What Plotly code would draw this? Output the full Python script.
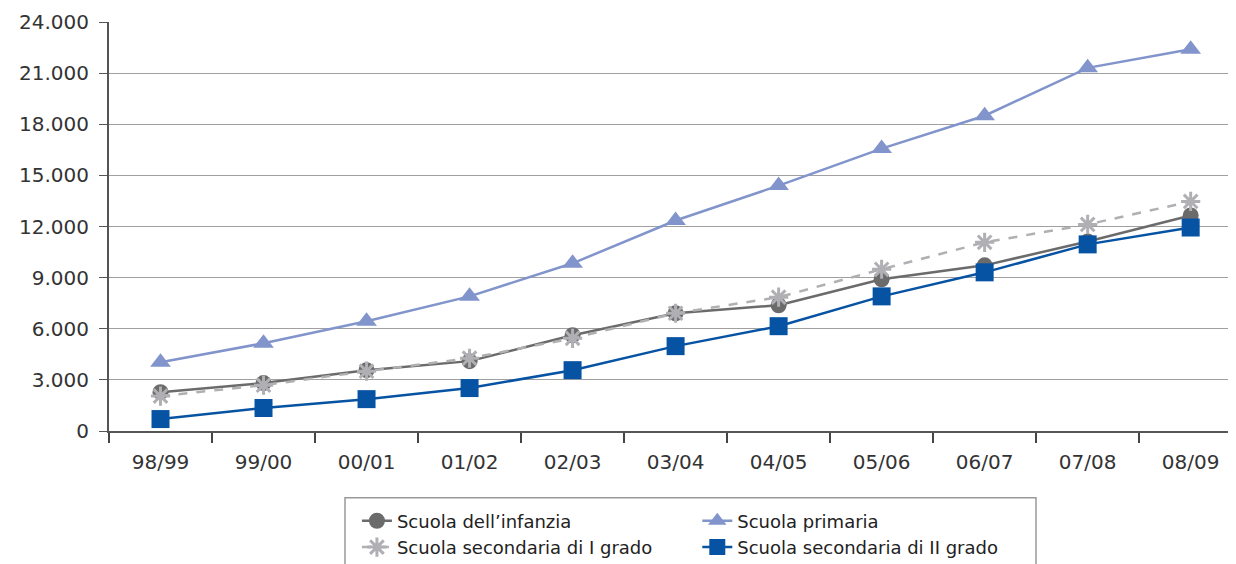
import plotly.graph_objects as go

anni = ["98/99", "99/00", "00/01", "01/02", "02/03", "03/04",
        "04/05", "05/06", "06/07", "07/08", "08/09"]

infanzia = [2280, 2810, 3570, 4100, 5620, 6910, 7380, 8900, 9720, 11120, 12650]
primaria = [4040, 5150, 6440, 7900, 9840, 12350, 14400, 16570, 18500, 21310, 22400]
sec_primo = [2050, 2690, 3510, 4270, 5440, 6910, 7850, 9490, 11070, 12120, 13470]
sec_secondo = [700, 1350, 1870, 2520, 3570, 4980, 6150, 7900, 9310, 10950, 11940]

FONT = "DejaVu Sans"

fig = go.Figure()

fig.add_trace(go.Scatter(
    x=anni, y=infanzia, name="Scuola dell’infanzia", legend="legend",
    mode="lines+markers",
    line=dict(color="#6b6b6b", width=2.5),
    marker=dict(symbol="circle", size=16, color="#6b6b6b"),
))
fig.add_trace(go.Scatter(
    x=anni, y=sec_primo, name="Scuola secondaria di I grado", legend="legend",
    mode="lines+markers",
    line=dict(color="#b0b0b4", width=2.5, dash="dash"),
    marker=dict(symbol="asterisk-open", size=16, line=dict(color="#b0b0b4", width=3)),
))
fig.add_trace(go.Scatter(
    x=anni, y=primaria, name="Scuola primaria", legend="legend2",
    mode="lines+markers",
    line=dict(color="#8194cb", width=2.5),
    marker=dict(symbol="triangle-up", size=18, color="#8194cb"),
))
fig.add_trace(go.Scatter(
    x=anni, y=sec_secondo, name="Scuola secondaria di II grado", legend="legend2",
    mode="lines+markers",
    line=dict(color="#0753a3", width=2.5),
    marker=dict(symbol="square", size=18, color="#0753a3"),
))

legend_style = dict(
    orientation="v", xanchor="left", yanchor="top",
    bgcolor="rgba(0,0,0,0)", borderwidth=0,
    font=dict(family=FONT, size=18, color="#222222"),
    tracegroupgap=0,
)

# the page body has an 8px margin, so the figure is offset by 8px right and down
fig.update_layout(
    width=1236, height=564,
    margin=dict(l=101, r=8, t=14, b=140),
    paper_bgcolor="white", plot_bgcolor="white",
    separators=",.",
    font=dict(family=FONT, size=20, color="#333333"),
    showlegend=True,
    legend=dict(x=0.220, y=-0.172, **legend_style),
    legend2=dict(x=0.522, y=-0.172, **legend_style),
    xaxis=dict(
        type="category", range=[-0.5, 10.44], automargin=False,
        showgrid=False, showline=True, linecolor="#555555", linewidth=2,
        ticks="outside", tickson="boundaries", ticklen=10, tickwidth=1.5,
        tickcolor="#444444", ticklabelstandoff=12,
        tickfont=dict(size=20, color="#333333"),
    ),
    yaxis=dict(
        range=[0, 24000], dtick=3000, tickformat=",", automargin=False,
        showgrid=True, gridcolor="#a0a0a0", gridwidth=1,
        showline=True, linecolor="#555555", linewidth=2,
        ticks="outside", ticklen=8, tickcolor="#555555",
        ticklabelstandoff=6,
        zeroline=False, tickfont=dict(size=20, color="#333333"),
    ),
    shapes=[dict(
        type="rect", xref="paper", yref="paper",
        x0=(345 - 109) / 1127, x1=(1036 - 109) / 1127,
        y0=(432 - 499) / 410, y1=(432 - 600) / 410,
        line=dict(color="#999999", width=1.5),
    )],
)

fig.write_html("out.html")
